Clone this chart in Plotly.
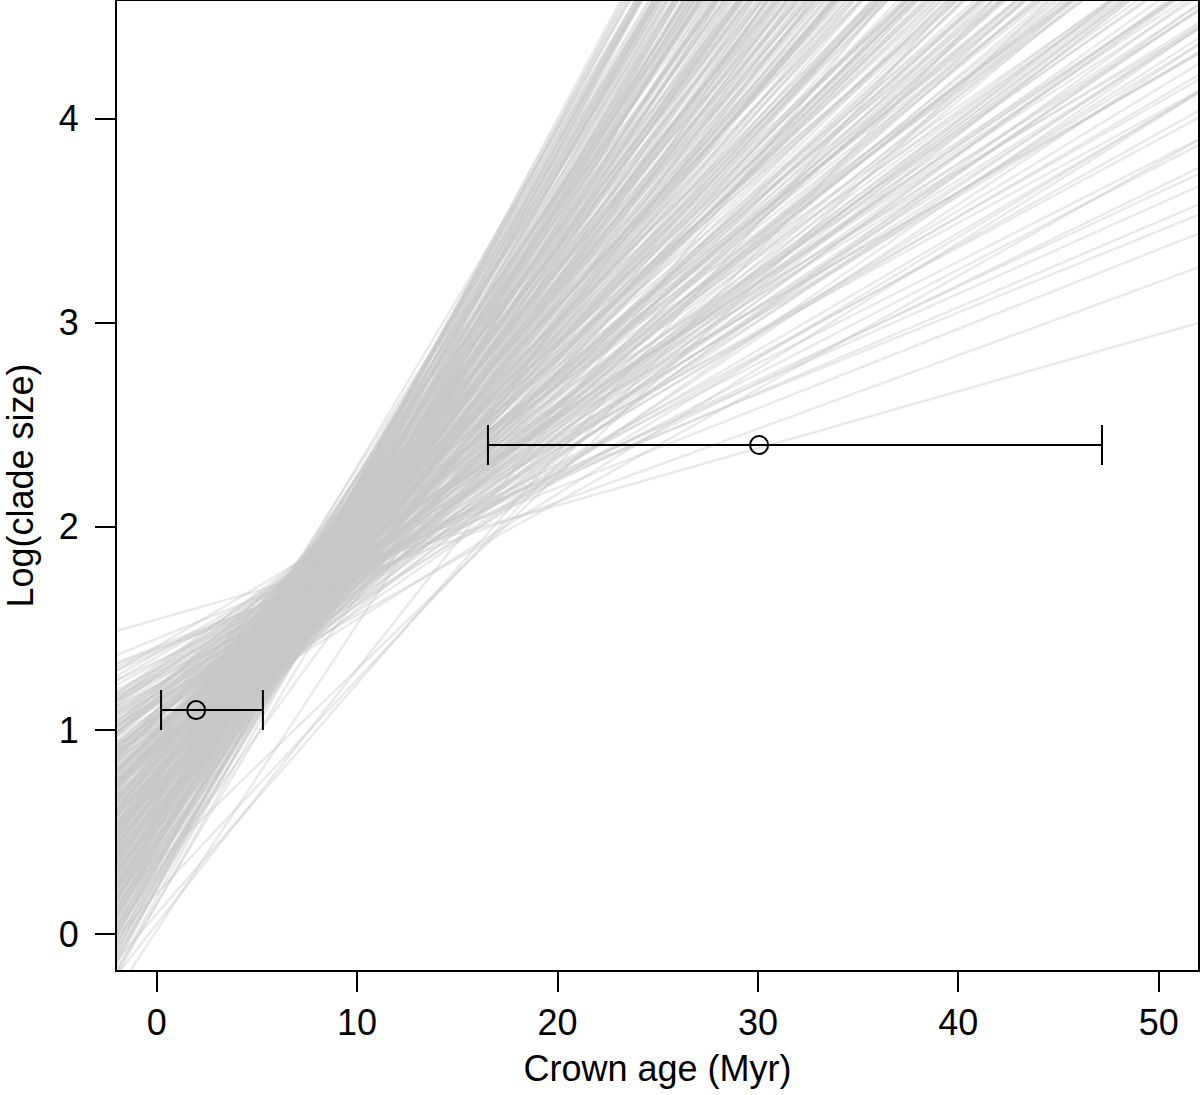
import plotly.graph_objects as go

# Fitted lines: log(clade size) = intercept + slope * crown age
intercepts = [
    # shallow lines
    1.544, 1.400, 1.410, 1.450, 1.396, 1.382, 1.338, 1.264,
    1.30, 1.22, 1.25, 1.33, 1.18, 1.28, 1.36, 1.20, 1.26, 1.15, 1.30, 1.22, 1.12, 1.27, 1.18, 1.10,
    # main fan, set 1
    1.22, 1.07, 1.13, 0.98, 1.16, 1.07, 1.21, 1.00, 1.07, 0.91, 1.13, 1.01, 1.15, 0.94, 1.06, 0.89,
    1.08, 0.98, 1.14, 0.92, 0.99, 0.82, 1.06, 0.91, 1.00, 0.84, 1.06, 0.92, 0.99, 0.78, 0.93, 0.85,
    1.00, 0.79, 0.94, 0.87, 1.00, 0.79, 0.89, 0.73, 0.92, 0.80, 0.94, 0.67, 0.83, 0.74, 0.87, 0.77,
    0.93, 0.68, 0.81, 0.72, 0.85, 0.62, 0.77, 0.72, 0.85, 0.64, 0.77, 0.65, 0.80, 0.56, 0.69, 0.75,
    0.56, 0.69, 0.61, 0.77, 0.55, 0.68, 0.59, 0.71, 0.47, 0.63, 0.51, 0.64, 0.52, 0.66, 0.43, 0.54,
    0.45, 0.58, 0.34, 0.51, 0.43, 0.54, 0.33, 0.43, 0.34, 0.42, 0.22, 0.32, 0.23,
    # outliers below the fan
    0.05, 0.20, 0.02, 0.15, 0.30, 0.28, 0.35, 0.45, 0.10,
    # main fan, set 2
    1.01, 1.38, 1.14, 1.41, 1.04, 1.22, 0.93, 1.28, 1.14, 1.31, 0.96, 1.21, 1.03, 1.32, 0.95, 1.13,
    0.90, 1.27, 1.03, 1.30, 0.93, 1.10, 0.82, 1.17, 1.02, 1.20, 0.85, 1.10, 0.92, 1.21, 0.84, 1.01,
    0.79, 1.16, 0.91, 1.19, 0.82, 0.99, 0.71, 1.06, 0.91, 1.08, 0.74, 0.99, 0.80, 1.10, 0.73, 0.90,
    0.68, 1.05, 0.80, 1.07, 0.71, 0.88, 0.59, 0.95, 0.80, 0.97, 0.63, 0.88, 0.69, 0.98, 0.62, 0.79,
    0.56, 0.94, 0.69, 0.96, 0.60, 0.77, 0.48, 0.83, 0.69, 0.86, 0.51, 0.77, 0.58, 0.87, 0.51, 0.68,
    0.45, 0.82, 0.58, 0.85, 0.48, 0.66, 0.37, 0.72, 0.58, 0.75, 0.40, 0.65, 0.47, 0.76, 0.39, 0.57,
    0.34, 0.71, 0.47, 0.74, 0.37, 0.54, 0.26, 0.61, 0.46, 0.64, 0.29, 0.54, 0.36, 0.65, 0.28, 0.45,
    0.23, 0.52, 0.35, 0.51, 0.26, 0.43, 0.15, 0.46, 0.35, 0.42, 0.18, 0.39, 0.24,
    # main fan, set 3
    1.24, 1.02, 1.18, 0.90, 1.26, 1.07, 1.29, 0.94, 1.09, 1.00, 1.14, 0.88, 1.18, 1.04,
    1.15, 0.92, 1.08, 0.80, 1.16, 0.97, 1.19, 0.85, 0.99, 0.90, 1.05, 0.78, 1.08, 0.94,
    1.05, 0.82, 0.98, 0.71, 1.06, 0.87, 1.10, 0.75, 0.89, 0.80, 0.95, 0.68, 0.98, 0.85,
    0.95, 0.72, 0.89, 0.61, 0.96, 0.77, 1.00, 0.65, 0.79, 0.71, 0.85, 0.58, 0.89, 0.75,
    0.85, 0.62, 0.79, 0.51, 0.86, 0.68, 0.90, 0.55, 0.70, 0.61, 0.75, 0.48, 0.79, 0.65,
    0.75, 0.53, 0.69, 0.41, 0.77, 0.58, 0.80, 0.45, 0.60, 0.51, 0.65, 0.39, 0.69, 0.55,
    0.66, 0.43, 0.59, 0.31, 0.67, 0.48, 0.70, 0.36, 0.50, 0.41, 0.56, 0.29, 0.59, 0.45,
    0.56, 0.33, 0.49, 0.22, 0.57, 0.38, 0.52, 0.26,
]
slopes = [
    0.028, 0.036, 0.039, 0.040, 0.042, 0.044, 0.046, 0.048,
    0.050, 0.051, 0.053, 0.054, 0.055, 0.056, 0.057, 0.058, 0.059, 0.060, 0.061, 0.062, 0.063, 0.064, 0.065, 0.066,
    0.068, 0.069, 0.070, 0.071, 0.072, 0.073, 0.074, 0.075, 0.076, 0.077, 0.078, 0.079, 0.080, 0.081, 0.082, 0.083,
    0.084, 0.085, 0.086, 0.087, 0.088, 0.089, 0.090, 0.091, 0.092, 0.093, 0.094, 0.095, 0.096, 0.097, 0.098, 0.099,
    0.100, 0.101, 0.102, 0.103, 0.104, 0.105, 0.106, 0.107, 0.108, 0.109, 0.110, 0.111, 0.112, 0.113, 0.114, 0.115,
    0.116, 0.117, 0.118, 0.119, 0.120, 0.121, 0.122, 0.123, 0.124, 0.125, 0.126, 0.127, 0.128, 0.129, 0.130, 0.132,
    0.133, 0.134, 0.136, 0.137, 0.138, 0.140, 0.141, 0.142, 0.144, 0.145, 0.147, 0.148, 0.150, 0.152, 0.153, 0.155,
    0.157, 0.159, 0.161, 0.163, 0.165, 0.167, 0.170, 0.172, 0.175, 0.178, 0.181, 0.184, 0.187,
    0.125, 0.105, 0.150, 0.165, 0.135, 0.180, 0.095, 0.140, 0.113,
    0.0555, 0.0565, 0.0575, 0.0585, 0.0595, 0.0605, 0.0615, 0.0625, 0.0635, 0.0645, 0.0655, 0.0665, 0.0675, 0.0685, 0.0695, 0.0705,
    0.0715, 0.0725, 0.0735, 0.0745, 0.0755, 0.0765, 0.0775, 0.0785, 0.0795, 0.0805, 0.0815, 0.0825, 0.0835, 0.0845, 0.0855, 0.0865,
    0.0875, 0.0885, 0.0895, 0.0905, 0.0915, 0.0925, 0.0935, 0.0945, 0.0955, 0.0965, 0.0975, 0.0985, 0.0995, 0.1005, 0.1015, 0.1025,
    0.1035, 0.1045, 0.1055, 0.1065, 0.1075, 0.1085, 0.1095, 0.1105, 0.1115, 0.1125, 0.1135, 0.1145, 0.1155, 0.1165, 0.1175, 0.1185,
    0.1195, 0.1205, 0.1215, 0.1225, 0.1235, 0.1245, 0.1255, 0.1265, 0.1275, 0.1285, 0.1295, 0.1305, 0.1315, 0.1325, 0.1335, 0.1345,
    0.1355, 0.1365, 0.1375, 0.1385, 0.1395, 0.1405, 0.1415, 0.1425, 0.1435, 0.1445, 0.1455, 0.1465, 0.1475, 0.1485, 0.1495, 0.1505,
    0.1515, 0.1525, 0.1535, 0.1545, 0.1555, 0.1565, 0.1575, 0.1585, 0.1595, 0.1605, 0.1615, 0.1625, 0.1635, 0.1645, 0.1655, 0.1665,
    0.1675, 0.1685, 0.1695, 0.1705, 0.1715, 0.1725, 0.1735, 0.1745, 0.1755, 0.1765, 0.1775, 0.1785, 0.1795,
    0.0652, 0.0662, 0.0672, 0.0682, 0.0692, 0.0702, 0.0712, 0.0722, 0.0732, 0.0742, 0.0752, 0.0762, 0.0772, 0.0782,
    0.0792, 0.0802, 0.0812, 0.0822, 0.0832, 0.0842, 0.0852, 0.0862, 0.0872, 0.0882, 0.0892, 0.0902, 0.0912, 0.0922,
    0.0932, 0.0942, 0.0952, 0.0962, 0.0972, 0.0982, 0.0992, 0.1002, 0.1012, 0.1022, 0.1032, 0.1042, 0.1052, 0.1062,
    0.1072, 0.1082, 0.1092, 0.1102, 0.1112, 0.1122, 0.1132, 0.1142, 0.1152, 0.1162, 0.1172, 0.1182, 0.1192, 0.1202,
    0.1212, 0.1222, 0.1232, 0.1242, 0.1252, 0.1262, 0.1272, 0.1282, 0.1292, 0.1302, 0.1312, 0.1322, 0.1332, 0.1342,
    0.1352, 0.1362, 0.1372, 0.1382, 0.1392, 0.1402, 0.1412, 0.1422, 0.1432, 0.1442, 0.1452, 0.1462, 0.1472, 0.1482,
    0.1492, 0.1502, 0.1512, 0.1522, 0.1532, 0.1542, 0.1552, 0.1562, 0.1572, 0.1582, 0.1592, 0.1602, 0.1612, 0.1622,
    0.1632, 0.1642, 0.1652, 0.1662, 0.1672, 0.1682, 0.1692, 0.1702,
]

# Observed clades: crown age (Myr) with range, log(clade size)
clade_age = [1.97, 30.06]
clade_age_low = [0.22, 16.53]
clade_age_high = [5.30, 47.17]
clade_logsize = [1.10, 2.40]

x_ticks = [0, 10, 20, 30, 40, 50]
y_ticks = [0, 1, 2, 3, 4]
x_range = [-1.98, 51.96]
y_range = [-0.175, 4.578]

FONT = "Liberation Sans, Arial, sans-serif"

fig = go.Figure()

for a, b in zip(intercepts, slopes):
    xs = [x_range[0] - 1, x_range[1] + 1]
    fig.add_trace(go.Scatter(
        x=xs, y=[a + b * xs[0], a + b * xs[1]],
        mode="lines",
        line=dict(color="rgba(200,200,200,0.40)", width=2.4),
        hoverinfo="skip", showlegend=False,
    ))

fig.add_trace(go.Scatter(
    x=clade_age, y=clade_logsize,
    mode="markers",
    marker=dict(symbol="circle-open", size=18, color="black", line=dict(width=2, color="black")),
    error_x=dict(
        type="data", symmetric=False,
        array=[h - c for h, c in zip(clade_age_high, clade_age)],
        arrayminus=[c - l for c, l in zip(clade_age, clade_age_low)],
        color="black", thickness=2, width=20,
    ),
    showlegend=False,
))

fig.update_layout(
    width=1200, height=1095,
    margin=dict(l=117, r=2, t=1, b=125),
    plot_bgcolor="white", paper_bgcolor="white",
    font=dict(family=FONT, size=36, color="black"),
    showlegend=False,
)
fig.update_xaxes(
    range=x_range, tickvals=x_ticks, ticktext=[str(v) for v in x_ticks],
    showgrid=False, zeroline=False, automargin=False,
    showline=True, mirror=True, linecolor="black", linewidth=2,
    ticks="outside", ticklen=20, tickwidth=2, tickcolor="black",
    ticklabelstandoff=0,
    tickfont=dict(family=FONT, size=36, color="black"),
    title=dict(text="Crown age (Myr)", font=dict(family=FONT, size=36, color="black"), standoff=14),
)
fig.update_yaxes(
    range=y_range, tickvals=y_ticks, ticktext=[str(v) for v in y_ticks],
    showgrid=False, zeroline=False, automargin=False,
    showline=True, mirror=True, linecolor="black", linewidth=2,
    ticks="outside", ticklen=20, tickwidth=2, tickcolor="black",
    ticklabelstandoff=9,
    tickfont=dict(family=FONT, size=36, color="black"),
    title=dict(text="Log(clade size)", font=dict(family=FONT, size=36, color="black"), standoff=34),
)

fig.write_html("out.html", config={"displayModeBar": False},
               post_script="document.body.style.margin='0';")
